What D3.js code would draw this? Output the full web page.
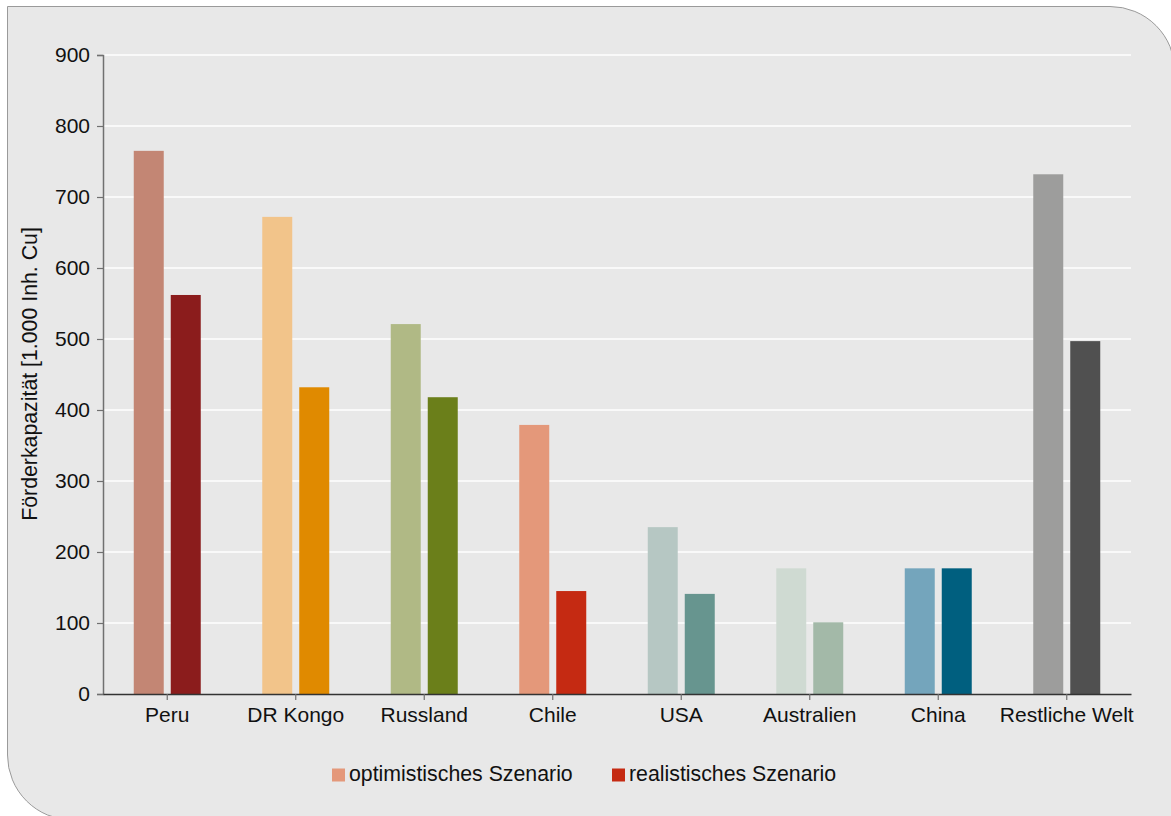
<!DOCTYPE html>
<html>
<head>
<meta charset="utf-8">
<script src="https://cdn.jsdelivr.net/npm/d3@7"></script>
<style>
  html, body { margin: 0; padding: 0; background: #ffffff; }
  svg { display: block; font-family: "Liberation Sans", Arial, sans-serif; }
</style>
</head>
<body>
<svg id="chart" width="1171" height="816"></svg>
<script>
// Copper mining capacity by country, two scenarios
const categories = ["Peru", "DR Kongo", "Russland", "Chile", "USA", "Australien", "China", "Restliche Welt"];
const optimistic = [765, 672, 521, 379, 235, 177, 177, 732];
const realistic  = [562, 432, 418, 145, 141, 101, 177, 497];
const optimisticColors = ["#c38674", "#f2c48a", "#b0b985", "#e4987a", "#b6c7c3", "#cfdad2", "#74a5bc", "#9d9d9c"];
const realisticColors  = ["#8b1c1c", "#e08a00", "#6b7f1a", "#c52a12", "#67958f", "#a3b9a8", "#005f7f", "#505050"];
const yTicks = [0, 100, 200, 300, 400, 500, 600, 700, 800, 900];
const seriesNames = ["optimistisches Szenario", "realistisches Szenario"];
const legendColors = ["#e4987a", "#c52a12"];
const yTitle = "Förderkapazität [1.000 Inh. Cu]";

const FONT = "Liberation Sans, Arial, sans-serif";
const svg = d3.select("#chart");

// Panel background with rounded top-right and bottom-left corners
const px0 = 7.5, py0 = 6.5, px1 = 1175, py1 = 820, r = 65;
const panel = d3.path();
panel.moveTo(px0, py0);
panel.lineTo(px1 - r, py0);
panel.arcTo(px1, py0, px1, py0 + r, r);
panel.lineTo(px1, py1);
panel.lineTo(px0 + r, py1);
panel.arcTo(px0, py1, px0, py1 - r, r);
panel.closePath();
svg.append("path").attr("d", panel.toString())
  .attr("fill", "#e8e8e8").attr("stroke", "#9a9a9a").attr("stroke-width", 1);

const plotLeft = 103, plotRight = 1131, plotTop = 55, plotBottom = 694;

const x = d3.scaleBand().domain(categories).range([plotLeft, plotRight]).paddingInner(0).paddingOuter(0);
const y = d3.scaleLinear().domain([0, 900]).range([plotBottom, plotTop]);

// Horizontal gridlines
svg.append("g").selectAll("line").data(yTicks.filter(t => t > 0)).join("line")
  .attr("x1", plotLeft).attr("x2", plotRight)
  .attr("y1", d => y(d)).attr("y2", d => y(d))
  .attr("stroke", "#ffffff").attr("stroke-width", 1.5);

// Bars: lighter optimistic bar on the left, darker realistic bar on the right
const barW = 30, gap = 7;
const g = svg.append("g");
g.selectAll("rect.opt").data(categories).join("rect")
  .attr("class", "opt")
  .attr("x", d => x(d) + x.bandwidth() / 2 - gap / 2 - barW)
  .attr("y", (d, i) => y(optimistic[i]))
  .attr("width", barW)
  .attr("height", (d, i) => y(0) - y(optimistic[i]))
  .attr("fill", (d, i) => optimisticColors[i]);
g.selectAll("rect.real").data(categories).join("rect")
  .attr("class", "real")
  .attr("x", d => x(d) + x.bandwidth() / 2 + gap / 2)
  .attr("y", (d, i) => y(realistic[i]))
  .attr("width", barW)
  .attr("height", (d, i) => y(0) - y(realistic[i]))
  .attr("fill", (d, i) => realisticColors[i]);

// Y axis
const yAxis = d3.axisLeft(y).tickValues(yTicks).tickSize(6).tickPadding(7);
const ya = svg.append("g").attr("transform", `translate(${plotLeft},0)`).call(yAxis);
ya.select(".domain").attr("stroke", "#707070").attr("stroke-width", 1.5);
ya.selectAll(".tick line").attr("stroke", "#707070").attr("stroke-width", 1.2);
ya.selectAll(".tick text").attr("font-size", 21).attr("fill", "#111").attr("font-family", FONT);

// X axis
const xAxis = d3.axisBottom(x).tickSize(6).tickPadding(7.5).tickSizeOuter(0);
const xa = svg.append("g").attr("transform", `translate(0,${plotBottom})`).call(xAxis);
xa.select(".domain").attr("stroke", "#333").attr("stroke-width", 1.3);
xa.selectAll(".tick line").attr("stroke", "#707070").attr("stroke-width", 1.2);
xa.selectAll(".tick text").attr("font-size", 21).attr("fill", "#111").attr("font-family", FONT);

// Y axis title
svg.append("text")
  .attr("transform", "translate(37,374) rotate(-90)")
  .attr("text-anchor", "middle")
  .attr("font-size", 21.3).attr("fill", "#111").attr("font-family", FONT)
  .text(yTitle);

// Legend
const legendX = [332, 612];
const lg = svg.append("g");
seriesNames.forEach((name, i) => {
  lg.append("rect").attr("x", legendX[i]).attr("y", 768.5)
    .attr("width", 13).attr("height", 13).attr("fill", legendColors[i]);
  lg.append("text").attr("x", legendX[i] + 17).attr("y", 781)
    .attr("font-size", 21.3).attr("fill", "#111").attr("font-family", FONT).text(name);
});
</script>
</body>
</html>
